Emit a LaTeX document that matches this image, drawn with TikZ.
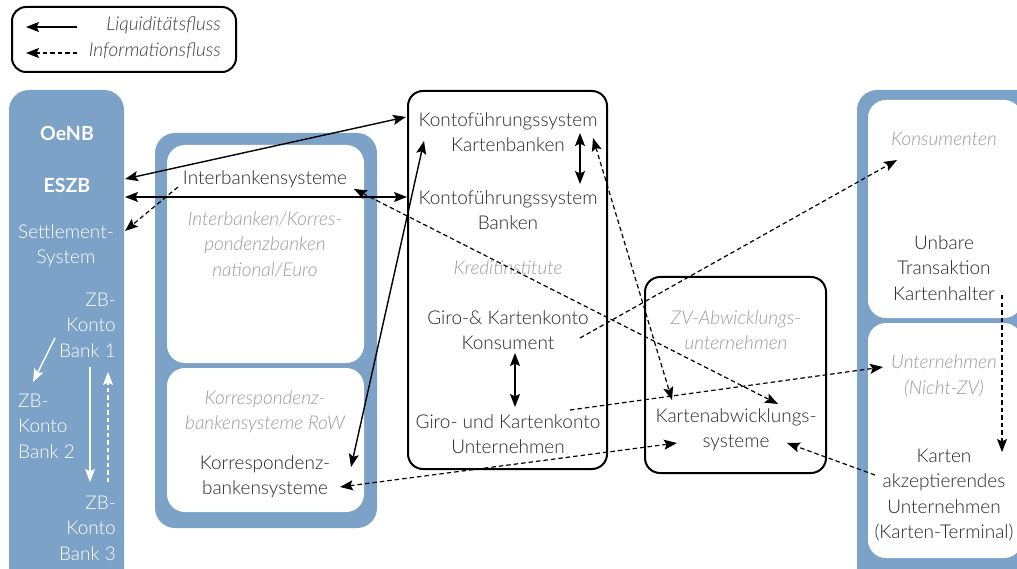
\documentclass[tikz,border=0pt]{standalone}
\usepackage{fontspec}
\IfFontExistsTF{Lato Light}
  {\setmainfont{Lato Light}[BoldFont={Lato Bold},ItalicFont={Lato Light Italic}]}
  {\setmainfont{Lato}}
\usetikzlibrary{arrows.meta}

\definecolor{panelblue}{RGB}{125,162,200}
\definecolor{ink}{RGB}{40,40,40}
\definecolor{mute}{RGB}{155,155,155}

\tikzset{
  x=1pt, y=-1pt,
  every node/.style={font=\fontsize{19}{25.5}\selectfont, text=ink, inner sep=0pt, align=center},
  note/.style={text=mute, font=\fontsize{19}{25.5}\selectfont\itshape},
  onblue/.style={text=white},
  strong/.style={text=white, font=\fontsize{19.5}{25.5}\selectfont\bfseries},
  >={Stealth[length=13pt,width=10pt,inset=2.5pt]},
  liq/.style={line width=1.4pt, draw=black},
  info/.style={line width=1.2pt, draw=black, dash pattern=on 4.5pt off 3pt},
  frame/.style={line width=2pt, draw=black, rounded corners=15pt},
  panel/.style={fill=panelblue, rounded corners=20pt},
  inner/.style={fill=white, rounded corners=18pt},
}

\begin{document}
\begin{tikzpicture}
\useasboundingbox (0,0) rectangle (1017,569);
\clip (0,0) rectangle (1017,569);

% ---------- legend ----------
\draw[frame, rounded corners=14pt] (12,7) rectangle (236,72);
\node[anchor=east, note, text=ink!90] (liqtxt) at (221,25) {Liquiditätsfluss};
\node[anchor=east, note, text=ink!90] (inftxt) at (221,51) {Informationsfluss};
\coordinate (liqa) at (77,27);  \coordinate (liqb) at (26,27);
\coordinate (infa) at (77,53);  \coordinate (infb) at (26,53);
\draw[liq,->] (liqa) -- (liqb);
\draw[info,->] (infa) -- (infb);

% ---------- blue panels and boxes ----------
\fill[panel] (9,90) rectangle (124,620);
\fill[panel] (155,133) rectangle (377,528);
\fill[inner] (167,145) rectangle (364,363);
\fill[inner] (167,368) rectangle (364,512);
\fill[panel] (857,90) rectangle (1040,620);
\fill[inner] (868,100) rectangle (1022,318);
\fill[inner] (868,323) rectangle (1022,558);
\draw[frame] (408,91) rectangle (607,469);
\draw[frame] (645,277) rectangle (826,473);

% ---------- central bank column ----------
\node[strong] (oenb) at (67,133) {OeNB};
\node[strong] (eszb) at (67,185) {ESZB};
\node[onblue] (settle) at (66,246) {Settlement-\\System};
\node[onblue, anchor=east, align=right] (zb1) at (116,325) {ZB-\\Konto\\Bank 1};
\node[onblue, anchor=west, align=left] (zb2) at (18,426) {ZB-\\Konto\\Bank 2};
\node[onblue, anchor=east, align=right] (zb3) at (116,528) {ZB-\\Konto\\Bank 3};

% ---------- interbank column ----------
\node (interbank) at (265,179) {Interbankensysteme};
\node[note] (ibnote) at (265,244) {Interbanken/Korres-\\pondenzbanken\\national/Euro};
\node[note] (rownote) at (265,412) {Korrespondenz-\\bankensysteme RoW};
\node (korr) at (265,477) {Korrespondenz-\\bankensysteme};

% ---------- credit institutions ----------
\node (kfk) at (508,132) {Kontoführungssystem\\Kartenbanken};
\node (kfb) at (508,210) {Kontoführungssystem\\Banken};
\node[note] (ki) at (508,268) {Kreditinstitute};
\node (gk) at (508,330) {Giro-\& Kartenkonto\\Konsument};
\node (gu) at (508,434) {Giro- und Kartenkonto\\Unternehmen};

% ---------- card processing ----------
\node[note] (zvnote) at (736,330) {ZV-Abwicklungs-\\unternehmen};
\node (kas) at (736,430) {Kartenabwicklungs-\\systeme};

% ---------- customers ----------
\node[note] (kons) at (944,139) {Konsumenten};
\node (unbare) at (944,268) {Unbare\\Transaktion\\Kartenhalter};
\node[note] (untnote) at (944,376) {Unternehmen\\(Nicht-ZV)};
\node (kau) at (944,495) {Karten\\akzeptierendes\\Unternehmen\\(Karten-Terminal)};

% ---------- connector ports ----------
\coordinate (eszb-a) at (125,179);   \coordinate (kfk-w) at (406,117);
\coordinate (eszb-b) at (125,197);   \coordinate (kfb-w) at (407,197);
\coordinate (settle-e) at (125,231); \coordinate (interbank-sw) at (178,187);
\coordinate (kfk-sw) at (424,141);   \coordinate (korr-ne) at (351,467);
\coordinate (interbank-e) at (354,189); \coordinate (kas-n) at (778,404);
\coordinate (kfk-e) at (593,138);    \coordinate (kas-nw) at (672,400);
\coordinate (gk-e) at (580,338);     \coordinate (kons-sw) at (897,160);
\coordinate (gu-e) at (570,410);     \coordinate (untnote-w) at (883,367);
\coordinate (korr-e) at (340,487);   \coordinate (kas-w) at (677,443);
\coordinate (kau-w) at (875,475);    \coordinate (kas-e) at (787,443);
\coordinate (unbare-e) at (1002,295); \coordinate (kau-ne) at (1002,452);
\coordinate (kfk-s) at (580,133);    \coordinate (kfb-n) at (580,184);
\coordinate (gk-s) at (515,353);     \coordinate (gu-n) at (515,407);
\coordinate (zb1-w) at (55,338);     \coordinate (zb2-ne) at (33,382);
\coordinate (zb1-s) at (90,367);     \coordinate (zb3-n) at (90,482);
\coordinate (zb3-ne) at (108,482);   \coordinate (zb1-se) at (108,372);

% ---------- liquidity flows ----------
\draw[liq,<->] (eszb-a) -- (kfk-w);
\draw[liq,<->] (eszb-b) -- (kfb-w);
\draw[liq,<->] (kfk-sw) -- (korr-ne);
\draw[liq,<->] (kfk-s) -- (kfb-n);
\draw[liq,<->] (gk-s) -- (gu-n);
\draw[liq,draw=white,->] (zb1-w) -- (zb2-ne);
\draw[liq,draw=white,->] (zb1-s) -- (zb3-n);

% ---------- information flows ----------
\draw[info,->] (interbank-sw) -- (settle-e);
\draw[info,<->] (interbank-e) -- (kas-n);
\draw[info,<->] (kfk-e) -- (kas-nw);
\draw[info,->] (gk-e) -- (kons-sw);
\draw[info,->] (gu-e) -- (untnote-w);
\draw[info,<->] (korr-e) -- (kas-w);
\draw[info,->] (kau-w) -- (kas-e);
\draw[info,->] (unbare-e) -- (kau-ne);
\draw[info,draw=white,->] (zb3-ne) -- (zb1-se);
\end{tikzpicture}
\end{document}
